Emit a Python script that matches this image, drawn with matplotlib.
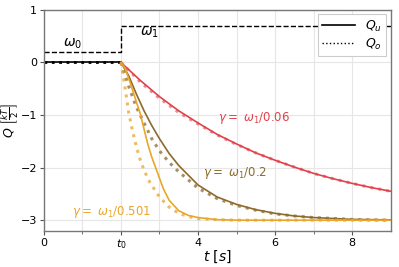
import matplotlib
matplotlib.use("Agg")
import matplotlib.pyplot as plt
from matplotlib.ticker import FixedLocator

# ---- data ----
omega_t = [0, 2, 2, 9]
omega_v = [0.2, 0.2, 0.7, 0.7]

pre_t = [0, 2]
pre_q = [0, 0]

red_t = [2.0, 2.5, 3.0, 3.5, 4.0, 4.5, 5.0, 5.5, 6.0, 6.5, 7.0, 7.5, 8.0, 8.5, 9.0]
red_u = [0.0, -0.34, -0.65, -0.92, -1.15, -1.37, -1.55, -1.72, -1.86, -1.99, -2.11, -2.21, -2.30, -2.38, -2.45]
red_o = [0.0, -0.37, -0.68, -0.95, -1.17, -1.38, -1.56, -1.72, -1.86, -1.99, -2.11, -2.21, -2.30, -2.38, -2.45]

brown_t = [2.0, 2.2, 2.4, 2.6, 2.8, 3.0, 3.25, 3.5, 4.0, 4.5, 5.0, 5.5, 6.0, 6.5, 7.0, 8.0, 9.0]
brown_u = [0.0, -0.25, -0.6, -0.92, -1.2, -1.45, -1.73, -1.96, -2.33, -2.56, -2.70, -2.80, -2.87, -2.92, -2.95, -2.985, -2.995]
brown_o = [0.0, -0.45, -0.85, -1.15, -1.45, -1.68, -1.90, -2.08, -2.39, -2.59, -2.72, -2.81, -2.88, -2.92, -2.95, -2.985, -3.0]

yel_u_t = [2.0, 2.1, 2.2, 2.3, 2.4, 2.5, 2.6, 2.7, 2.8, 2.9, 3.0, 3.1, 3.25, 3.5, 3.75, 4.0, 4.5, 5.0, 9.0]
yel_u = [0.0, -0.1, -0.3, -0.52, -0.75, -0.97, -1.27, -1.56, -1.80, -2.0, -2.2, -2.40, -2.62, -2.82, -2.91, -2.95, -2.99, -3.0, -3.0]

yel_o_t = [2.0, 2.05, 2.1, 2.2, 2.3, 2.4, 2.5, 2.6, 2.75, 3.0, 3.25, 3.5, 3.75, 4.0, 4.5, 5.0, 9.0]
yel_o = [0.0, -0.22, -0.45, -0.95, -1.3, -1.6, -1.85, -2.05, -2.28, -2.56, -2.75, -2.87, -2.93, -2.97, -2.99, -3.0, -3.0]

x_major = [0, 2, 4, 6, 8]
x_major_labels = ["0", "$t_0$", "4", "6", "8"]
x_minor = [1, 3, 5, 7]
y_ticks = [-3, -2, -1, 0, 1]

RED = "#e0424b"
BROWN = "#8c6a2c"
YEL = "#e9a62a"

fig = plt.figure(figsize=(3.99, 2.67), dpi=100)
ax = fig.add_axes([0.110, 0.136, 0.869, 0.827])

ax.plot(omega_t, omega_v, color="black", ls="--", lw=1.0)

ax.plot(pre_t, pre_q, color="black", lw=1.2)
ax.plot(pre_t, pre_q, color="black", ls=":", lw=2.0)

ax.plot(red_t, red_o, color=RED, ls=":", lw=2.2, alpha=0.6)
ax.plot(red_t, red_u, color=RED, lw=1.2)
ax.plot(brown_t, brown_o, color=BROWN, ls=":", lw=2.2, alpha=0.75)
ax.plot(brown_t, brown_u, color=BROWN, lw=1.2)
ax.plot(yel_o_t, yel_o, color=YEL, ls=":", lw=2.2, alpha=0.75)
ax.plot(yel_u_t, yel_u, color=YEL, lw=1.2)

# legend proxies
ax.plot([], [], color="black", lw=1.2, label="$Q_u$")
ax.plot([], [], color="black", ls=":", lw=1.0, label="$Q_o$")
leg = ax.legend(loc="upper right", fontsize=9, handlelength=2.6, framealpha=1,
                borderpad=0.35, labelspacing=0.25, handletextpad=0.8,
                fancybox=False, borderaxespad=0.35)
leg.get_frame().set_edgecolor("#cccccc")
leg.get_frame().set_linewidth(0.8)

ax.text(0.5, 0.36, r"$\omega_0$", fontsize=10, va="center")
ax.text(2.5, 0.56, r"$\omega_1$", fontsize=10, va="center")
ax.text(4.52, -1.05, r"$\gamma =\ \omega_1/0.06$", color=RED, fontsize=8.5, va="center")
ax.text(4.13, -2.11, r"$\gamma =\ \omega_1/0.2$", color=BROWN, fontsize=8.5, va="center")
ax.text(0.72, -2.85, r"$\gamma =\ \omega_1/0.501$", color=YEL, fontsize=8.5, va="center")

ax.set_xlim(0, 9)
ax.set_ylim(-3.2, 1)
ax.xaxis.set_major_locator(FixedLocator(x_major))
ax.set_xticklabels(x_major_labels)
ax.xaxis.set_minor_locator(FixedLocator(x_minor))
ax.set_yticks(y_ticks)
ax.set_yticklabels([str(v) if v >= 0 else "\u2212" + str(-v) for v in y_ticks])
ax.tick_params(which="both", labelsize=8, color="#555555", length=3, pad=2)
ax.tick_params(which="minor", length=2.5)
ax.grid(True, which="both", color="#e6e6e6", lw=0.8)
ax.set_axisbelow(True)
for s in ax.spines.values():
    s.set_color("#777777")
    s.set_linewidth(1.0)

ax.set_xlabel(r"$t\ [s]$", fontsize=10)
ax.set_ylabel(r"$Q\ \left[\frac{kT}{2}\right]$", fontsize=9)
ax.xaxis.set_label_coords(0.5, -0.083)
ax.yaxis.set_label_coords(-0.066, 0.5)

fig.savefig("out.png", dpi=100)
